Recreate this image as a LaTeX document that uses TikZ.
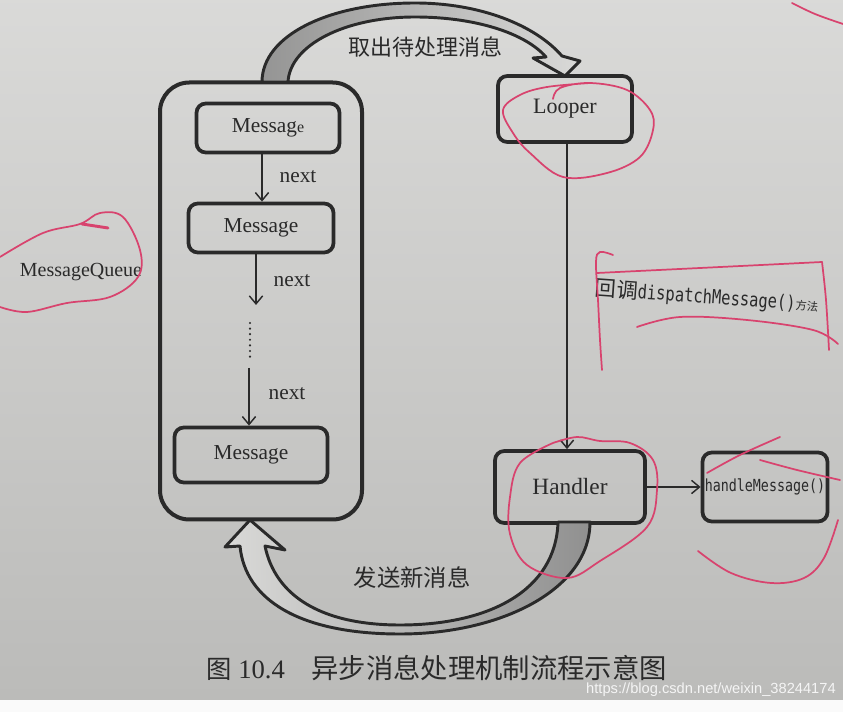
\documentclass[tikz,border=0pt]{standalone}
\usepackage{fontspec}
\setmainfont{Liberation Serif}
\newfontfamily\cjk{Noto Sans CJK SC}
\newfontfamily\monoc[FakeStretch=0.8]{DejaVu Sans Mono}
\newfontfamily\wmfont{Liberation Sans}
\usetikzlibrary{arrows.meta,calc}
\definecolor{paper}{HTML}{D3D3D1}
\definecolor{paperdark}{HTML}{BBBBB9}
\definecolor{ink}{HTML}{2A2A2A}
\definecolor{pen}{HTML}{D8436E}
\begin{document}
\begin{tikzpicture}[x=0.75pt,y=-0.75pt,
  box/.style={draw=ink, line width=2.8pt, rounded corners=7pt, inner sep=0pt},
  lbl/.style={font=\fontsize{16}{18}\selectfont, text=ink},
  cjklbl/.style={font=\cjk\fontsize{16.5}{18}\selectfont, text=ink},
  link/.style={draw=ink, line width=1.1pt, -{Straight Barb[length=6pt,width=10pt,line width=1.1pt]}},
  redpen/.style={draw=pen, line width=1.3pt, line cap=round, line join=round},
  bigarrow/.style={draw=ink, line width=2.2pt, line join=round}]
\useasboundingbox (0,0) rectangle (843,712);
\shade[top color=paper!85!white, bottom color=paperdark] (0,0) rectangle (843,700);
\fill[white!96!gray] (0,700) rectangle (843,712);

% container (MessageQueue)
\node[box, rounded corners=22pt, line width=3pt, minimum width=151.5pt, minimum height=327.75pt] (mq) at (261,301) {};

% messages
\node[box, minimum width=107.25pt, minimum height=36.75pt, lbl] (m1) at (268,128) {Messag{\fontsize{12}{14}\selectfont e}};
\node[box, minimum width=108.75pt, minimum height=36.75pt, lbl] (m2) at (261,228) {Message};
\node[box, minimum width=114.75pt, minimum height=41.25pt, lbl] (m3) at (251,455) {Message};

\coordinate (x1) at (262,0);
\coordinate (x2) at (256,0);
\coordinate (x3) at (249,0);
\coordinate (d0) at (256,305);
\coordinate (d1) at (250,323);
\coordinate (d2) at (250,357);
\coordinate (d3) at (249,368);

\draw[link] (m1.south -| x1) -- (m2.north -| x1);
\draw[link] (m2.south -| x2) -- (d0);
\draw[ink, line width=1.8pt, line cap=round, dash pattern=on 0pt off 4.2pt] (d1) -- (d2);
\draw[link] (d3) -- (m3.north -| x3);

\node[lbl] (n1) at (298,177) {next};
\node[lbl] (n2) at (292,281) {next};
\node[lbl] (n3) at (287,394) {next};

% Looper, Handler, handleMessage
\node[box, minimum width=100.5pt, minimum height=49.5pt, lbl, font=\fontsize{16.5}{18}\selectfont] (looper) at (565,109) {Looper};
\node[box, minimum width=112.5pt, minimum height=54pt, lbl, font=\fontsize{17.5}{18}\selectfont] (handler) at (570,487) {Handler};
\node[box, minimum width=93.75pt, minimum height=51.75pt, text=ink, font=\monoc\fontsize{12.5}{14}\selectfont] (hm) at (765,487) {handleMessage()};

\coordinate (xl) at (567,0);
\draw[link] (looper.south -| xl) -- (handler.north -| xl);
\draw[link] (handler.east) -- (handler.east -| hm.west);

% side labels
\node[lbl, font=\fontsize{15}{18}\selectfont] (mqlabel) at (81,272) {MessageQueue};
\node[text=ink, rotate=-4, anchor=west, inner sep=0pt] (disp) at (595,289)
  {{\cjk\fontsize{16}{18}\selectfont 回调}{\monoc\fontsize{14.5}{16}\selectfont dispatchMessage()}{\cjk\fontsize{8.5}{10}\selectfont 方法}};

% top big arrow : MessageQueue -> Looper
\shade[bigarrow, left color=gray!75!paper, right color=paper!85!white]
  (262,82) .. controls (262,35) and (330,3) .. (415,3)
  .. controls (480,3) and (535,25) .. (562,56)
  -- (580,61) -- (565,76) -- (533,58) -- (546,57)
  .. controls (525,33) and (475,17) .. (415,17)
  .. controls (345,17) and (290,45) .. (288,82) -- cycle;
\node[cjklbl] (take) at (425,47) {取出待处理消息};

% bottom big arrow : Handler -> MessageQueue
\shade[bigarrow, left color=paper!85!white, right color=gray!80!paper]
  (590,522) .. controls (590,590) and (500,634) .. (400,634)
  .. controls (300,634) and (245,600) .. (240,546)
  -- (225,547) -- (250,520) -- (285,550) -- (265,546)
  .. controls (275,595) and (320,625) .. (400,625)
  .. controls (490,625) and (556,590) .. (558,522) -- cycle;
\node[cjklbl, font=\cjk\fontsize{17.5}{18}\selectfont] (send) at (412,578) {发送新消息};

% caption
\node[text=ink, anchor=west, inner sep=0pt] (cap) at (206,668)
  {{\cjk\fontsize{19}{20}\selectfont 图}\hspace{5pt}{\fontsize{20}{20}\selectfont 10.4}\hspace{20pt}{\cjk\fontsize{20.5}{22}\selectfont 异步消息处理机制流程示意图}};
\node[anchor=east, inner sep=0pt, text=white!92!gray, font=\wmfont\fontsize{11}{12}\selectfont] (wm) at (836,690) {https://blog.csdn.net/weixin\_38244174};

% red pen annotations
\draw[redpen] plot[smooth, tension=0.6] coordinates {(0,257) (43,233) (80,224) (100,213) (123,217) (140,250) (138,277) (110,297) (67,303) (27,312) (0,307)};
\draw[redpen, line width=2.2pt] (82,224) -- (108,228);
\draw[redpen] plot[smooth, tension=0.6] coordinates {(553,99) (560,88) (590,83) (627,90) (650,110) (653,130) (640,157) (607,173) (563,177) (530,153) (513,133) (503,110) (520,95) (547,87) (590,83)};
\draw[redpen] plot[smooth, tension=0.6] coordinates {(553,443) (577,437) (600,441) (630,443) (653,460) (657,490) (647,527) (600,561) (567,578) (527,565) (510,534) (510,497) (520,463) (553,443)};
\draw[redpen] plot[smooth, tension=0.6] coordinates {(613,255) (600,252) (596,262) (598,300) (600,340) (602,370)};
\draw[redpen] plot[smooth, tension=0.6] coordinates {(597,273) (700,268) (822,262)};
\draw[redpen] plot[smooth, tension=0.6] coordinates {(822,262) (826,300) (829,350)};
\draw[redpen] plot[smooth, tension=0.6] coordinates {(637,327) (680,317) (747,320) (813,330) (838,344)};
\draw[redpen] plot[smooth, tension=0.6] coordinates {(707,473) (740,455) (780,437)};
\draw[redpen] plot[smooth, tension=0.6] coordinates {(760,460) (797,470) (840,480)};
\draw[redpen] plot[smooth, tension=0.6] coordinates {(698,551) (731,573) (771,583) (804,578) (824,558) (838,520)};
\draw[redpen] plot[smooth, tension=0.6] coordinates {(792,3) (815,14) (843,24)};
\end{tikzpicture}
\end{document}
